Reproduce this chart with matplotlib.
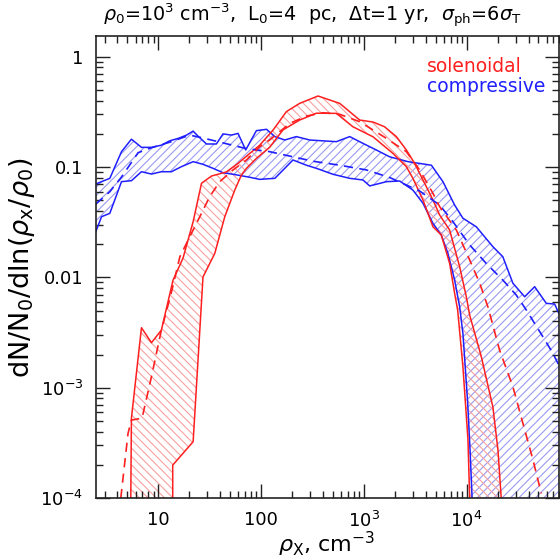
import numpy as np
import matplotlib
matplotlib.use("Agg")
import matplotlib.pyplot as plt
from matplotlib.ticker import FixedLocator, FixedFormatter, LogLocator, NullFormatter

# --- compressive forcing: envelope and median ---
comp_up_x = [2.46, 3.37, 4.38, 5.47, 6.85, 8.57, 10.7, 12.9, 15.6, 18.8, 21.8, 24.3, 29.4, 36.7,
             42.6, 51.4, 59.6, 70.8, 90, 113, 136, 170, 220, 297, 400, 540, 728, 980, 1320,
             1780, 2690, 4540, 5880, 7640, 9200, 12400, 18000, 22500, 28200, 36700, 45900,
             59600, 71800, 80300]
comp_up_y = [0.0703, 0.0791, 0.138, 0.179, 0.151, 0.151, 0.158, 0.173, 0.182, 0.195, 0.212, 0.191,
             0.162, 0.162, 0.200, 0.195, 0.202, 0.143, 0.214, 0.220, 0.189, 0.176, 0.189, 0.176,
             0.173, 0.170, 0.189, 0.164, 0.143, 0.124, 0.112, 0.104, 0.0738, 0.0453, 0.0344,
             0.0288, 0.0190, 0.0154, 0.00885, 0.00668, 0.00824, 0.00582, 0.00574, 0.00456]
comp_lo_x = [2.46, 2.80, 3.37, 4.38, 5.47, 6.85, 8.57, 10.7, 13.4, 16.8, 21.8, 27.2, 34.0, 42.6,
             53.3, 77.5, 96.9, 136, 170, 204, 276, 345, 500, 728, 980, 1140, 1660, 2230, 3000,
             3760, 4700, 5670, 6580, 7640, 8550, 9200, 10200, 10800, 11300]
comp_lo_y = [0.0259, 0.0355, 0.0381, 0.0738, 0.0753, 0.0908, 0.0865, 0.0908, 0.0908, 0.101, 0.112,
             0.106, 0.0975, 0.0889, 0.0861, 0.0809, 0.0774, 0.0791, 0.0975, 0.116, 0.104, 0.0975,
             0.0861, 0.0791, 0.0764, 0.0675, 0.0738, 0.0748, 0.0619, 0.0470, 0.0309, 0.0242,
             0.0165, 0.00946, 0.00542, 0.00311, 7.7e-4, 2.7e-4, 1e-4]
comp_med_x = [2.46, 3.37, 4.38, 6.35, 8.25, 13.4, 20.2, 28.3, 41.1, 72.0, 121, 204, 320, 582,
              1060, 1780, 3490, 5460, 7360, 10700, 15500, 22500, 30400, 38100, 55200, 69100, 80300]
comp_med_y = [0.0462, 0.0598, 0.0813, 0.135, 0.148, 0.170, 0.195, 0.182, 0.167, 0.147, 0.138,
              0.124, 0.113, 0.104, 0.0942, 0.0805, 0.0607, 0.0453, 0.0320, 0.0197, 0.0134,
              0.00946, 0.00692, 0.00506, 0.00290, 0.00205, 0.00155]

# --- solenoidal forcing: envelope and median ---
sol_up_x = [5.39, 5.47, 6.85, 8.57, 10.7, 13.9, 17.4, 21.8, 26.3, 32.9, 45.9, 59.6, 77.5, 96.9,
            131, 176, 237, 358, 582, 910, 1230, 1590, 2070, 2590, 3120, 3760, 4700, 5460, 6830,
            8550, 9930, 10700, 13900, 18000, 20200, 21700]
sol_up_y = [1e-4, 5.3e-4, 0.0035, 0.00256, 0.00333, 0.00946, 0.0150, 0.0320, 0.0713, 0.0830,
            0.0904, 0.108, 0.133, 0.158, 0.217, 0.318, 0.378, 0.441, 0.378, 0.267, 0.256, 0.232,
            0.189, 0.143, 0.108, 0.0764, 0.0504, 0.0368, 0.0269, 0.0125, 0.00668, 0.00456,
            0.00191, 6.7e-4, 2.7e-4, 1e-4]
sol_lo_x = [13.8, 13.8, 21.8, 27.2, 35.4, 44.3, 55.4, 64.3, 72.0, 90.0, 121, 163, 237, 345, 540,
            783, 1230, 1920, 2590, 3000, 3760, 4700, 5670, 6830, 7640, 8180, 9200, 10300, 10700]
sol_lo_y = [1e-4, 1.99e-4, 3.24e-4, 0.0101, 0.0165, 0.0355, 0.0619, 0.0847, 0.0975, 0.120, 0.151,
            0.217, 0.267, 0.308, 0.307, 0.232, 0.188, 0.133, 0.101, 0.0791, 0.0504, 0.0288,
            0.0242, 0.0134, 0.00718, 0.00506, 0.00155, 3.4e-4, 1e-4]
sol_med_x = [4.31, 5.07, 5.47, 6.94, 8.57, 10.7, 13.2, 16.2, 21.0, 26.3, 31.6, 39.6, 53.3, 72.0,
             96.9, 121, 190, 276, 400, 582, 910, 1660, 2590, 3490, 4700, 5460, 7940, 10700,
             13400, 16100, 20900, 28200, 35300, 44200, 53300]
sol_med_y = [1e-4, 3.86e-4, 5.09e-4, 5.3e-4, 0.00126, 0.00333, 0.00692, 0.0154, 0.0251, 0.0381,
             0.0540, 0.0738, 0.0942, 0.116, 0.153, 0.176, 0.249, 0.290, 0.311, 0.301, 0.258,
             0.182, 0.138, 0.0942, 0.0578, 0.0438, 0.0269, 0.0144, 0.00885, 0.00542, 0.00220,
             0.00102, 4.75e-4, 2.22e-4, 1.10e-4]

xticks = [10, 100, 1e3, 1e4]
xticklabels = ['10', '100', '10$^3$', '10$^4$']
yticks = [1e-4, 1e-3, 0.01, 0.1, 1]
yticklabels = ['10$^{-4}$', '10$^{-3}$', '0.01', '0.1', '1']

RED = '#ff1f1f'
BLUE = '#1f1fff'

plt.rcParams['hatch.linewidth'] = 0.8
plt.rcParams['font.family'] = ['DejaVu Sans']
plt.rcParams['mathtext.fontset'] = 'dejavusans'

fig = plt.figure(figsize=(5.6, 5.59), dpi=100)
ax = fig.add_axes([0.171, 0.109, 0.828, 0.827])
ax.set_xscale('log')
ax.set_yscale('log')
ax.set_xlim(2.46, 8e4)
ax.set_ylim(1e-4, 1.55)

floor = 1e-6  # closes the polygons below the plot


def band(xu, yu, xl, yl, color, hatch_color, hatch):
    px = np.r_[xu, xu[-1], xl[-1], xl[::-1]]
    py = np.r_[yu, floor, floor, yl[::-1]]
    ax.fill(px, py, facecolor='none', edgecolor=hatch_color, hatch=hatch, linewidth=0)
    ax.plot(xu, yu, color=color, lw=1.1)
    ax.plot(xl, yl, color=color, lw=1.1)


band(comp_up_x, comp_up_y, comp_lo_x, comp_lo_y, BLUE, '#9a9af2', '////')
band(sol_up_x, sol_up_y, sol_lo_x, sol_lo_y, RED, '#f6a0a0', '\\\\\\\\')
ax.plot(comp_med_x, comp_med_y, color=BLUE, lw=1.2, dashes=(5.5, 3.8))
ax.plot(sol_med_x, sol_med_y, color=RED, lw=1.2, dashes=(5.5, 3.8))

ax.xaxis.set_major_locator(FixedLocator(xticks))
ax.xaxis.set_major_formatter(FixedFormatter(xticklabels))
ax.xaxis.set_minor_locator(LogLocator(base=10, subs=np.arange(2, 10), numticks=20))
ax.xaxis.set_minor_formatter(NullFormatter())
ax.yaxis.set_major_locator(FixedLocator(yticks))
ax.yaxis.set_major_formatter(FixedFormatter(yticklabels))
ax.yaxis.set_minor_locator(LogLocator(base=10, subs=np.arange(2, 10), numticks=20))
ax.yaxis.set_minor_formatter(NullFormatter())
ax.tick_params(which='both', direction='in', top=True, right=True, labelsize=13, pad=9,
               color='#222222', width=1.0)
ax.tick_params(which='major', length=10)
ax.tick_params(which='minor', length=5)
for s in ax.spines.values():
    s.set_linewidth(1.2)
    s.set_color('#222222')

fig.text(327 / 560, 1 - 552 / 559, r'$\rho_{\rm X}$, cm$^{-3}$', fontsize=16,
         ha='center', va='baseline')
fig.text(22 / 560, 1 - 268 / 559, r'dN/N$_0$/dln($\rho_{\rm x}$/$\rho_0$)', fontsize=19.5,
         ha='center', va='center', rotation=90)

fig.text(312 / 560, 1 - 16 / 559,
         r'$\rho_0$=10$^3$ cm$^{-3}$,  L$_0$=4  pc,  $\Delta$t=1 yr,  $\sigma_{\rm ph}$=6$\sigma_{\rm T}$',
         ha='center', va='center', fontsize=13.8)
ax.text(0.714, 0.933, 'solenoidal', color=RED, fontsize=13.5, ha='left', va='center',
        transform=ax.transAxes)
ax.text(0.714, 0.890, 'compressive', color=BLUE, fontsize=13.5, ha='left', va='center',
        transform=ax.transAxes)

fig.savefig('out.png', dpi=100)
